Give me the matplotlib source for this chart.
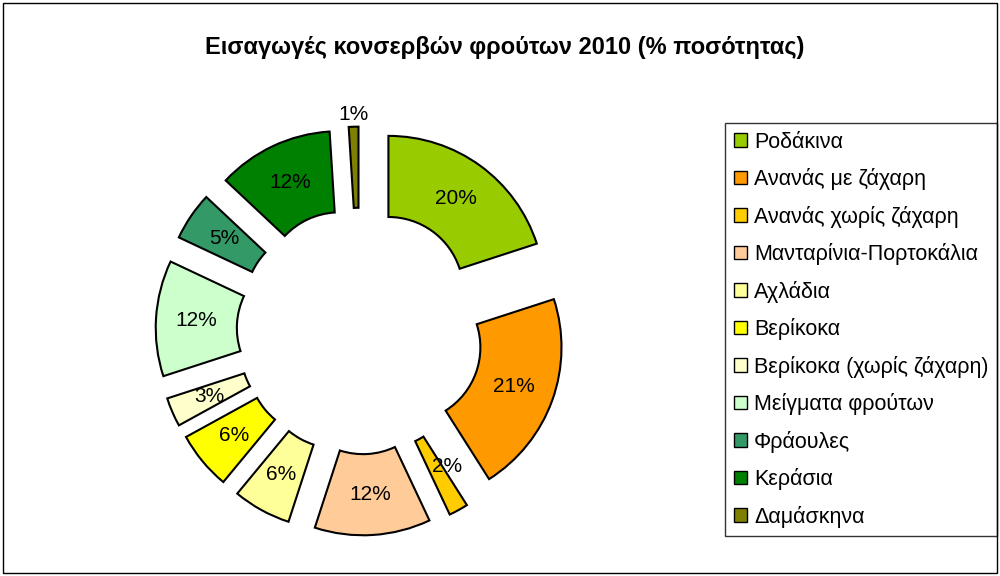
import numpy as np
import matplotlib.pyplot as plt
from matplotlib.patches import Rectangle

# =========================
# 기본 설정
# =========================
plt.rcParams['font.family'] = ['Liberation Sans', 'DejaVu Sans']

labels = ["Ροδάκινα", "Ανανάς με ζάχαρη", "Ανανάς χωρίς ζάχαρη",
          "Μανταρίνια-Πορτοκάλια", "Αχλάδια", "Βερίκοκα",
          "Βερίκοκα (χωρίς ζάχαρη)", "Μείγματα φρούτων", "Φράουλες",
          "Κεράσια", "Δαμάσκηνα"]
values = [20, 21, 2, 12, 6, 6, 3, 12, 5, 12, 1]
colors = ["#99CC00", "#FF9900", "#FFCC00", "#FFCC99", "#FFFF99", "#FFFF00",
          "#FFFFCC", "#CCFFCC", "#339966", "#008000", "#808000"]

TITLE = "Εισαγωγές κονσερβών φρούτων 2010 (% ποσότητας)"

# 도넛 형태 (반지름 = 1 기준)
WIDTH = 0.52
EXPLODE = 0.31
PCT_DIST = 1 - WIDTH / 2

fig = plt.figure(figsize=(10, 5.76), dpi=100)
fig.patches.append(Rectangle((0.003, 0.005), 0.994, 0.99, transform=fig.transFigure,
                             fill=False, edgecolor="black", linewidth=1))

# 픽셀 중심 (360, 331), 반지름 156px
ax = fig.add_axes([0.12, 5 / 576, 0.48, 480 / 576])
wedges, texts, autotexts = ax.pie(
    values,
    colors=colors,
    startangle=90,
    counterclock=False,
    explode=[EXPLODE] * len(values),
    autopct="%1.0f%%",
    pctdistance=PCT_DIST,
    wedgeprops=dict(width=WIDTH, edgecolor="black", linewidth=1.5),
    textprops=dict(fontsize=15, color="black"),
)
lim = 240 / 156
ax.set_xlim(-lim, lim)
ax.set_ylim(-lim, lim)
ax.set_aspect("equal")

# 작은 조각 라벨 위치 조정
for i, w in enumerate(wedges):
    ang = np.deg2rad((w.theta1 + w.theta2) / 2)
    cx, cy = w.center
    if values[i] == 1:
        r = 1.08
        autotexts[i].set_position((cx + r * np.cos(ang), cy + r * np.sin(ang)))
    elif values[i] == 2:
        r = PCT_DIST
        autotexts[i].set_position((cx + r * np.cos(ang) + 0.05, cy + r * np.sin(ang) + 0.05))

fig.text(0.505, 0.918, TITLE, ha="center", va="center", fontsize=17, fontweight="bold")

leg = ax.legend(wedges, labels, loc="upper left",
                bbox_to_anchor=(0.725, 1 - 123 / 576), bbox_transform=fig.transFigure,
                fontsize=15.5, frameon=True, fancybox=False, edgecolor="black",
                handlelength=0.6, handleheight=0.6, handletextpad=0.35,
                labelspacing=0.72, borderpad=0.4, borderaxespad=0)
leg.get_frame().set_linewidth(1)
for h in leg.legend_handles:
    h.set_linewidth(1)

fig.savefig("out.png", dpi=100)
